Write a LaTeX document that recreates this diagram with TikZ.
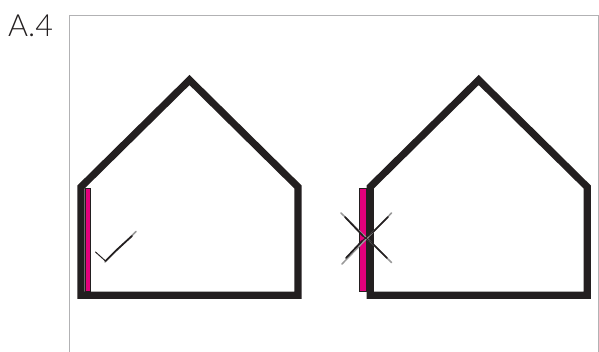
\documentclass[tikz,border=0pt]{standalone}
\usepackage{fontspec}
\setmainfont{Lato Light}
\usepackage{tikz}
\definecolor{wallblack}{RGB}{35,31,32}
\definecolor{framegrey}{RGB}{178,178,180}
\definecolor{insulpink}{RGB}{228,0,124}
\tikzset{
  frameline/.style={draw=framegrey, line width=1pt},
  house/.style={draw=wallblack, line width=7.2pt, miter limit=10},
  insul/.style={draw=wallblack, fill=insulpink, line width=0.7pt},
  penhalo/.style={draw=black!40, line width=1.5pt, line cap=round},
  penline/.style={draw=wallblack, line width=1.7pt, line cap=round},
  penthin/.style={draw=wallblack, line width=1pt, line cap=round},
  tag/.style={font=\fontsize{30.5}{30}\selectfont, text=wallblack, inner sep=0pt, anchor=base west},
}
\begin{document}
\begin{tikzpicture}[x=1pt,y=-1pt]
  \useasboundingbox (0,0) rectangle (599,352);
  \node[tag] (tag) at (8,37) {A.4};
  \draw[frameline] (69.7,352) -- (69.7,16) -- (598,16) -- (598,352);
  % the two houses
  \foreach \x in {0,289.2}{
    \draw[house] (81+\x,295.3) -- (81+\x,187) -- (189.5+\x,80) -- (298+\x,187) -- (298+\x,295.3) -- cycle;
  }
  \draw[insul] (85.3,188.8) rectangle (90.6,291.8);
  \draw[insul] (359.6,188.8) rectangle (366,291.8);
  % tick
  \draw[penhalo] (105,262) -- (136,231.5);
  \draw[penthin] (95.5,252) -- (105.5,261);
  \draw[penline] (105.5,261) -- (116,250.5) -- (132,236);
  % cross
  \draw[penhalo] (341,213) -- (391.5,262.5);
  \draw[penhalo] (391.5,213) -- (342,264);
  \foreach \a/\b/\c/\d in {345/217/363/236,372/243/387/258,388/217/373/232,362/241/346/258}{
    \draw[penline] (\a,\b) -- (\c,\d);
  }
  \draw[penthin] (363,236) -- (372,243);
  \draw[penthin] (373,232) -- (362,241);
\end{tikzpicture}
\end{document}
